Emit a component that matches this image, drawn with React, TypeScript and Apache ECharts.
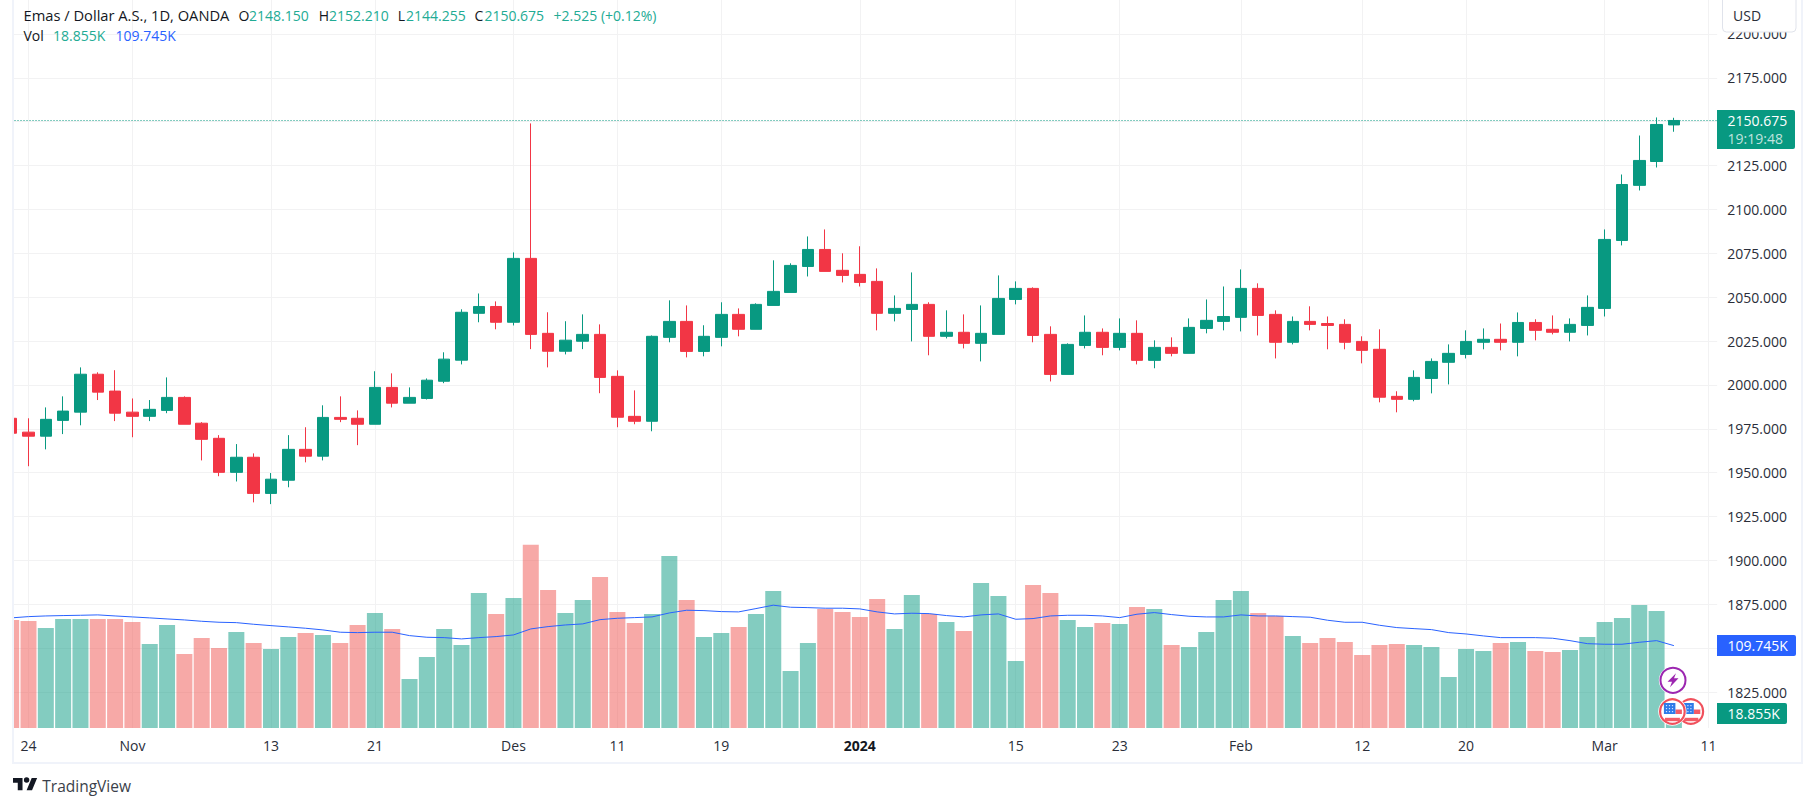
import React, { useEffect, useRef } from "react";
import * as echarts from "echarts";

const dates = [
  "2023-10-23","2023-10-24","2023-10-25","2023-10-26","2023-10-27","2023-10-30","2023-10-31",
  "2023-11-01","2023-11-02","2023-11-03","2023-11-06","2023-11-07","2023-11-08","2023-11-09","2023-11-10",
  "2023-11-13","2023-11-14","2023-11-15","2023-11-16","2023-11-17","2023-11-20","2023-11-21","2023-11-22","2023-11-23","2023-11-24",
  "2023-11-27","2023-11-28","2023-11-29","2023-11-30","2023-12-01","2023-12-04","2023-12-05","2023-12-06","2023-12-07","2023-12-08",
  "2023-12-11","2023-12-12","2023-12-13","2023-12-14","2023-12-15","2023-12-18","2023-12-19","2023-12-20","2023-12-21","2023-12-22",
  "2023-12-26","2023-12-27","2023-12-28","2023-12-29","2024-01-02","2024-01-03","2024-01-04","2024-01-05",
  "2024-01-08","2024-01-09","2024-01-10","2024-01-11","2024-01-12","2024-01-15","2024-01-16","2024-01-17","2024-01-18","2024-01-19",
  "2024-01-22","2024-01-23","2024-01-24","2024-01-25","2024-01-26","2024-01-29","2024-01-30","2024-01-31",
  "2024-02-01","2024-02-02","2024-02-05","2024-02-06","2024-02-07","2024-02-08","2024-02-09","2024-02-12","2024-02-13","2024-02-14","2024-02-15","2024-02-16",
  "2024-02-19","2024-02-20","2024-02-21","2024-02-22","2024-02-23","2024-02-26","2024-02-27","2024-02-28","2024-02-29",
  "2024-03-01","2024-03-04","2024-03-05","2024-03-06","2024-03-07","2024-03-08","2024-03-11",
];

const tickDates = ["2023-10-24","2023-11-01","2023-11-13","2023-11-21","2023-12-01","2023-12-11","2023-12-19","2024-01-02","2024-01-15","2024-01-23","2024-02-01","2024-02-12","2024-02-20","2024-03-01","2024-03-11"];
const tickLabels = ["24","Nov","13","21","Des","11","19","2024","15","23","Feb","12","20","Mar","11"];

const opens = [
  1981.0,1973.1,1970.8,1979.8,1984.5,2006.1,1996.5,1984.5,1982.1,1985.5,
  1992.9,1978.2,1969.6,1950.2,1958.8,1938.2,1945.7,1963.3,1959.4,1981.5,
  1981.0,1977.6,1998.6,1989.6,1992.3,2002.1,2014.1,2040.8,2044.7,2035.7,
  2072.1,2029.4,2019.2,2024.9,2028.8,2004.9,1982.1,1979.3,2027.1,2036.2,
  2019.1,2027.1,2040.2,2031.7,2045.3,2052.7,2067.5,2077.2,2065.3,2063.0,
  2059.0,2040.8,2043.0,2045.9,2027.7,2030.0,2023.7,2028.8,2048.7,2055.0,
  2028.8,2006.0,2022.5,2030.0,2021.4,2029.4,2014.0,2021.4,2018.0,2032.2,
  2036.2,2038.5,2055.0,2040.2,2024.3,2036.2,2035.0,2034.5,2024.8,2020.3,
  1993.5,1991.8,2003.7,2012.9,2017.4,2024.3,2026.0,2024.3,2035.6,2031.7,
  2030.0,2033.9,2043.6,2082.3,2113.7,2127.3,2148.15,
];
const closes = [
  1972.5,1970.8,1980.4,1985.1,2006.1,1995.9,1983.9,1982.1,1986.1,1992.9,
  1977.6,1969.0,1950.2,1958.8,1938.2,1946.3,1963.3,1959.4,1981.5,1980.4,
  1977.6,1998.6,1989.6,1992.9,2002.7,2014.7,2041.4,2044.7,2035.7,2072.1,
  2028.8,2019.2,2025.5,2028.8,2004.3,1981.6,1979.3,2027.7,2036.2,2019.1,
  2027.7,2040.2,2031.7,2045.9,2053.3,2068.1,2077.2,2064.7,2062.4,2058.4,
  2040.8,2043.6,2045.9,2027.7,2030.0,2023.7,2029.4,2049.3,2055.0,2028.2,
  2006.0,2023.1,2030.0,2021.4,2029.4,2014.0,2021.4,2018.0,2032.8,2036.8,
  2039.0,2055.0,2039.6,2024.3,2036.2,2034.5,2033.9,2024.3,2019.7,1993.0,
  1991.8,2004.3,2013.4,2018.0,2024.8,2026.0,2024.3,2035.6,2031.1,2030.0,
  2034.5,2044.2,2082.9,2114.2,2127.9,2148.4,2150.675,
];
const highs = [
  1983.0,1981.0,1987.2,1993.5,2010.0,2007.2,2008.4,1992.3,1991.4,2004.3,
  1993.5,1978.8,1971.4,1966.3,1961.0,1949.8,1971.4,1975.9,1988.4,1993.5,
  1985.5,2007.8,2006.6,1998.6,2003.7,2018.6,2043.1,2052.1,2047.6,2075.5,
  2149.0,2041.4,2036.3,2040.2,2034.5,2008.3,1996.9,2028.2,2048.2,2045.3,
  2034.0,2047.1,2043.6,2046.5,2071.0,2069.3,2084.6,2088.6,2075.0,2079.0,
  2066.4,2051.0,2064.1,2047.1,2042.5,2040.2,2045.3,2062.4,2059.0,2055.6,
  2033.4,2023.7,2039.6,2032.2,2037.9,2036.8,2025.4,2027.1,2037.9,2048.7,
  2056.1,2065.8,2057.9,2042.5,2039.0,2044.8,2039.0,2037.4,2027.7,2031.7,
  1996.4,2008.3,2015.1,2023.1,2031.1,2032.2,2035.0,2041.3,2037.4,2039.6,
  2037.9,2051.0,2088.6,2119.9,2142.1,2152.4,2152.21,
];
const lows = [
  1970.0,1953.7,1963.3,1972.0,1977.0,1991.4,1979.4,1970.2,1979.4,1983.9,
  1977.6,1957.0,1948.0,1945.0,1933.1,1932.1,1941.7,1955.9,1957.0,1978.8,
  1965.7,1977.6,1987.2,1989.6,1991.7,2001.0,2011.7,2035.7,2031.7,2033.9,
  2020.4,2010.0,2017.4,2020.4,1995.3,1975.9,1977.6,1973.6,2024.3,2015.7,
  2016.3,2022.0,2027.7,2031.7,2045.3,2052.7,2061.8,2064.7,2058.4,2056.1,
  2031.1,2036.2,2024.8,2016.9,2026.5,2020.8,2013.4,2028.8,2045.9,2024.3,
  2002.0,2006.0,2020.8,2016.9,2019.7,2011.7,2009.5,2016.3,2018.0,2029.4,
  2031.1,2030.5,2028.2,2015.1,2023.1,2031.1,2020.3,2020.3,2012.3,1990.1,
  1984.4,1990.7,1995.2,2000.3,2015.1,2020.3,2019.7,2016.3,2025.4,2028.8,
  2024.8,2028.2,2039.0,2079.5,2110.8,2123.9,2144.255,
];
const volumes = [
  144,142.7,133.3,145.3,145.3,145.3,145.3,141.3,112,137.3,
  98.7,120,106.7,128,113.3,105.3,121.3,126.7,124,113.3,
  137.3,153.3,132,65.3,94.7,132,110.7,180,152,173.3,
  244,184,153.3,170.7,201.3,154.7,140,152,229.3,170.7,
  121.3,126.7,134.7,152,182.7,76,113.3,158.7,154.7,148,
  172,132,177.3,152,141.3,129.3,193.3,176,89.3,190.7,
  180,144,134.7,140,138.7,161.3,158.7,110.7,108,128,
  170.7,182.7,153.3,149.3,122.7,113.3,120,114.7,97.3,110.7,
  112,110.7,108,68,105.3,102.7,113.3,114.7,102.7,101.3,
  104,121.3,141.3,146.7,164,156,18.855,
];
const volumeMA = [
  146.7,148.4,149.3,149.8,150.2,150.7,149.3,148,146.7,145.3,
  144,142.2,140.9,140.4,138.2,136.4,134.7,132.9,130.7,127.6,
  127.1,127.6,127.6,123.1,120.9,120.4,118.7,120.4,121.8,124,
  132,135.1,137.3,138.7,144.4,146.2,147.1,148,153.3,156.9,
  156.4,155.1,154.7,159.1,163.6,160.9,160.4,159.6,159.6,158.7,
  154.7,152,152.9,152.4,149.8,148,150.7,152,144.9,145.8,
  149.3,150.2,150.2,149.3,147.1,151.6,153.8,151.1,148.9,148,
  148,150.7,149.3,149.3,148.4,147.6,143.6,140.9,140.9,136.9,
  133.8,132.4,131.1,127.1,125.3,122.7,120.4,120.4,120.4,119.6,
  116.4,112.4,111.6,111.6,114.2,116.4,109.745,
];

const lastPrice = 2150.675;
const hiddenPriceTicks = [1850, 2150];
const GREEN = "#089981";
const LEGEND_GREEN = "#22ab94";
const RED = "#f23645";
const BLUE = "#2962ff";
const GRID = "#f2f2f3";
const BORDER = "#f0f3fa";
const INK = "#131722";
const AXIS_INK = "#2a2e39";
const FONT = "'Open Sans'";
const FS = 14;

const LOGO =
  "M14 22H7V11H0V4h14v18zM28 22h-8l7.5-18h8L28 22zM24 7a4 4 0 1 1-8 0 4 4 0 0 1 8 0z";

function txt(text: string, x: number, y: number, fill: string, extra: any = {}) {
  return {
    type: "text",
    x,
    y,
    z: 120,
    style: {
      text,
      fill,
      font: `${extra.weight ?? "normal"} ${extra.size ?? FS}px ${FONT}`,
      align: extra.align ?? "left",
      verticalAlign: "middle",
      textAlign: extra.align ?? "left",
      textVerticalAlign: "middle",
      opacity: extra.opacity ?? 1,
    },
  };
}

function flag(cx: number, cy: number, z: number) {
  const mk = (o: any) => ({ ...o, z });
  const dots: any[] = [];
  for (const dx of [-6.5, -3.5, -0.5]) {
    for (const dy of [-6.5, -3.5, -0.5]) {
      dots.push(mk({ type: "rect", shape: { x: dx, y: dy, width: 1.2, height: 1.2 }, style: { fill: "#cfe0ff" } }));
    }
  }
  return {
    type: "group",
    x: cx,
    y: cy,
    z,
    children: [
      mk({ type: "circle", shape: { cx: 0, cy: 0, r: 14.2 }, style: { fill: "#fff" } }),
      mk({ type: "circle", shape: { cx: 0, cy: 0, r: 12.3 }, style: { fill: "#fff", stroke: "#f0505c", lineWidth: 2.2 } }),
      mk({ type: "rect", shape: { x: 3, y: -2, width: 6.5, height: 4.5 }, style: { fill: "#f45b66" } }),
      mk({ type: "rect", shape: { x: -7.5, y: 6.3, width: 15, height: 3.4 }, style: { fill: "#f45b66" } }),
      mk({ type: "rect", shape: { x: -8.5, y: -8.5, width: 11.5, height: 11 }, style: { fill: "#2f7be8" } }),
      ...dots,
    ],
  };
}

export default function App() {
  const ref = useRef<HTMLDivElement>(null);
  useEffect(() => {
    if (!ref.current) return;
    echarts.graphic.registerShape("tvlogo", echarts.graphic.extendPath(LOGO as any, {}) as any);
    const chart = echarts.init(ref.current, null, { renderer: "svg" });

    const gridLeft = 2.52;
    const gridWidth = 1714.68;
    const paneBottom = 728;

    const graphic: any[] = [
      { type: "rect", z: 100, shape: { x: 0, y: 0, width: 12, height: 807 }, style: { fill: "#fff" } },
      { type: "rect", z: 101, shape: { x: 12, y: 0, width: 2, height: 764 }, style: { fill: BORDER } },
      { type: "rect", z: 101, shape: { x: 12, y: 762, width: 1791, height: 2 }, style: { fill: BORDER } },
      { type: "rect", z: 101, shape: { x: 1801, y: 0, width: 2, height: 764 }, style: { fill: BORDER } },
      { type: "rect", z: 110, shape: { x: 1722.5, y: -4, width: 73.5, height: 36, r: 4 }, style: { fill: "#fff", stroke: "#e0e3eb", lineWidth: 1 } },
      txt("USD", 1733, 15.7, AXIS_INK),
      { type: "rect", z: 110, shape: { x: 1717, y: 110, width: 78, height: 39, r: [0, 2, 2, 0] }, style: { fill: GREEN } },
      txt("2150.675", 1727.5, 120.5, "#fff"),
      txt("19:19:48", 1727.5, 138.7, "#fff", { opacity: 0.75 }),
      { type: "rect", z: 110, shape: { x: 1717, y: 635, width: 79, height: 21, r: [0, 2, 2, 0] }, style: { fill: BLUE } },
      txt("109.745K", 1727.5, 645.7, "#fff"),
      { type: "rect", z: 110, shape: { x: 1717, y: 703, width: 70, height: 21, r: [0, 2, 2, 0] }, style: { fill: GREEN } },
      txt("18.855K", 1727.5, 713.5, "#fff"),
      txt("Emas / Dollar A.S., 1D, OANDA", 23.5, 15, INK, { size: 14.7 }),
      txt("O", 238.4, 15, INK),
      txt("2148.150", 249, 15, LEGEND_GREEN),
      txt("H", 318.7, 15, INK),
      txt("2152.210", 329, 15, LEGEND_GREEN),
      txt("L", 397.8, 15, INK),
      txt("2144.255", 406, 15, LEGEND_GREEN),
      txt("C", 474.5, 15, INK),
      txt("2150.675", 484.4, 15, LEGEND_GREEN),
      txt("+2.525 (+0.12%)", 553.6, 15, LEGEND_GREEN),
      txt("Vol", 23.5, 35.8, INK),
      txt("18.855K", 53, 35.8, LEGEND_GREEN),
      txt("109.745K", 115.6, 35.8, BLUE),
      flag(1690.8, 711.5, 105),
      flag(1672.4, 711.5, 106),
      {
        type: "group",
        x: 1673,
        y: 680.3,
        z: 107,
        children: [
          { type: "circle", z: 107, shape: { cx: 0, cy: 0, r: 14.2 }, style: { fill: "#fff" } },
          { type: "circle", z: 107, shape: { cx: 0, cy: 0, r: 12.5 }, style: { fill: "#fff", stroke: "#9c27b0", lineWidth: 2 } },
          { type: "polygon", z: 107, shape: { points: [[3, -7], [-5.5, 1.5], [-1, 1.5], [-3, 7], [5.5, -2], [1, -2]] }, style: { fill: "#9c27b0" } },
        ],
      },
      { type: "tvlogo", x: 13, y: 775.3, scaleX: 0.68, scaleY: 0.68, z: 120, style: { fill: INK } },
      txt("TradingView", 42.3, 785.7, "#3b3f4a", { size: 15.5 }),
    ];

    chart.setOption({
      animation: false,
      backgroundColor: "#fff",
      grid: [
        { left: gridLeft, width: gridWidth, top: 33.9, height: 658.2 },
        { left: gridLeft, width: gridWidth, top: 0, height: paneBottom },
      ],
      xAxis: [
        {
          type: "category",
          gridIndex: 0,
          data: dates,
          boundaryGap: true,
          axisLine: { show: false },
          axisTick: { show: false },
          axisLabel: { show: false },
          splitLine: { show: false },
        },
        {
          type: "category",
          gridIndex: 1,
          data: dates,
          boundaryGap: true,
          axisLine: { show: false },
          axisTick: { show: false },
          axisLabel: {
            interval: (_i: number, v: string) => tickDates.includes(v),
            formatter: (v: string) => {
              const l = tickLabels[tickDates.indexOf(v)] ?? "";
              return l === "2024" ? `{b|${l}}` : l;
            },
            margin: 10,
            fontFamily: FONT,
            fontSize: FS,
            color: AXIS_INK,
            hideOverlap: false,
            rich: { b: { fontFamily: FONT, fontSize: FS, fontWeight: "bold", color: INK } },
          },
          splitLine: {
            show: true,
            alignWithLabel: true,
            interval: (_i: number, v: string) => tickDates.includes(v),
            lineStyle: { color: GRID, width: 1 },
          },
        },
      ],
      yAxis: [
        {
          type: "value",
          gridIndex: 0,
          position: "right",
          min: 1825,
          max: 2200,
          interval: 25,
          axisLine: { show: false },
          axisTick: { show: false },
          axisLabel: {
            margin: 10,
            fontFamily: FONT,
            fontSize: FS,
            color: AXIS_INK,
            showMinLabel: true,
            showMaxLabel: true,
            formatter: (v: number) => (hiddenPriceTicks.includes(v) ? "" : v.toFixed(3)),
          },
          splitLine: { show: true, lineStyle: { color: GRID, width: 1 } },
        },
        {
          type: "value",
          gridIndex: 1,
          min: 0,
          max: 970,
          show: false,
          splitLine: { show: false },
        },
      ],
      series: [
        {
          name: "Volume",
          type: "bar",
          xAxisIndex: 1,
          yAxisIndex: 1,
          barWidth: 16,
          data: volumes.map((v, i) => ({
            value: v,
            itemStyle: {
              color: closes[i] >= opens[i] ? "rgba(8,153,129,0.5)" : "rgba(239,83,80,0.5)",
            },
          })),
        },
        {
          name: "Vol MA",
          type: "line",
          xAxisIndex: 1,
          yAxisIndex: 1,
          data: volumeMA,
          showSymbol: false,
          symbol: "none",
          lineStyle: { color: BLUE, width: 1 },
          z: 3,
        },
        {
          name: "Emas",
          type: "candlestick",
          xAxisIndex: 0,
          yAxisIndex: 0,
          barWidth: 12,
          data: opens.map((o, i) => [o, closes[i], lows[i], highs[i]]),
          itemStyle: { color: GREEN, color0: RED, borderColor: GREEN, borderColor0: RED, borderWidth: 1 },
          markLine: {
            silent: true,
            symbol: "none",
            label: { show: false },
            lineStyle: { color: GREEN, type: [1, 2], width: 1 },
            data: [{ yAxis: lastPrice }],
          },
        },
      ],
      graphic: { elements: graphic },
    } as any);

    return () => chart.dispose();
  }, []);

  return (
    <div
      ref={ref}
      style={{ position: "fixed", left: 0, top: 0, width: 1815, height: 807, background: "#fff" }}
    />
  );
}
